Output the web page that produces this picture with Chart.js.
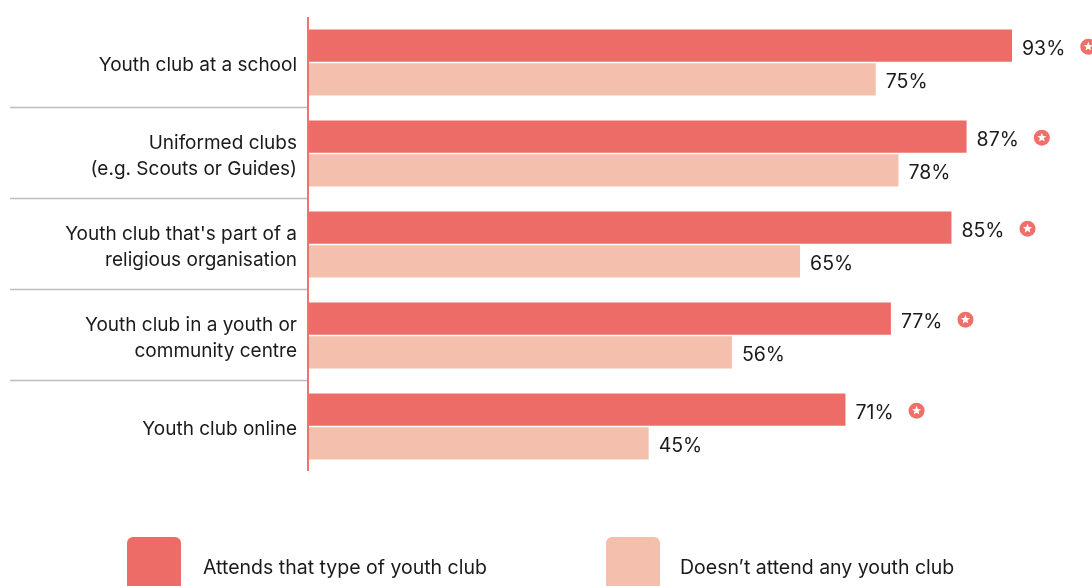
<!DOCTYPE html>
<html>
<head>
<meta charset="utf-8">
<script src="https://cdn.jsdelivr.net/npm/chart.js@4"></script>
<style>
html,body{margin:0;padding:0;background:#fff;}
#wrap{width:1092px;height:586px;position:relative;}
</style>
</head>
<body>
<div id="wrap"><canvas id="c" width="1092" height="586"></canvas></div>
<script>
const categories = [
  ["Youth club at a school"],
  ["Uniformed clubs", "(e.g. Scouts or Guides)"],
  ["Youth club that's part of a", "religious organisation"],
  ["Youth club in a youth or", "community centre"],
  ["Youth club online"]
];
const attendsValues = [93, 87, 85, 77, 71];
const notAttendValues = [75, 78, 65, 56, 45];
const seriesNames = ["Attends that type of youth club", "Doesn\u2019t attend any youth club"];
const significant = [true, true, true, true, true];

const C_DARK = '#ee6c67';
const C_LIGHT = '#f4c0ad';
const FONT = 'Inter, "Noto Sans", sans-serif';

function drawStar(ctx, cx, cy, R, r) {
  ctx.beginPath();
  for (let i = 0; i < 10; i++) {
    const rad = i % 2 === 0 ? R : r;
    const a = -Math.PI / 2 + i * Math.PI / 5;
    const x = cx + rad * Math.cos(a), y = cy + rad * Math.sin(a);
    if (i === 0) ctx.moveTo(x, y); else ctx.lineTo(x, y);
  }
  ctx.closePath();
  ctx.fill();
}

const extras = {
  id: 'extras',
  afterDatasetsDraw(chart) {
    const ctx = chart.ctx;
    const area = chart.chartArea;
    const y = chart.scales.y;
    ctx.save();
    // category labels
    ctx.font = '19px ' + FONT;
    ctx.fillStyle = '#1a1a1a';
    ctx.textAlign = 'right';
    ctx.textBaseline = 'middle';
    const lh = 26.5;
    chart.data.labels.forEach((lines, i) => {
      const cy = y.getPixelForValue(i) + 3;
      const y0 = cy - (lines.length - 1) * lh / 2;
      lines.forEach((ln, k) => ctx.fillText(ln, area.left - 11, y0 + k * lh));
    });
    // separators
    ctx.strokeStyle = '#bdbdbd';
    ctx.lineWidth = 1.5;
    for (let i = 0; i < categories.length - 1; i++) {
      const yy = Math.round((y.getPixelForValue(i) + y.getPixelForValue(i + 1)) / 2) - 0.5;
      ctx.beginPath();
      ctx.moveTo(10, yy);
      ctx.lineTo(area.left - 1, yy);
      ctx.stroke();
    }
    // axis line
    ctx.strokeStyle = '#f07370';
    ctx.lineWidth = 2;
    ctx.beginPath();
    ctx.moveTo(area.left, area.top);
    ctx.lineTo(area.left, area.bottom - 1);
    ctx.stroke();
    // value labels
    ctx.font = '19.5px ' + FONT;
    ctx.textBaseline = 'middle';
    ctx.textAlign = 'left';
    chart.data.datasets.forEach((ds, di) => {
      const meta = chart.getDatasetMeta(di);
      meta.data.forEach((bar, i) => {
        const txt = ds.data[i] + '%';
        const tx = bar.x + 10;
        const ty = bar.y + 3;
        ctx.fillStyle = '#1a1a1a';
        ctx.fillText(txt, tx, ty);
        if (di === 0 && significant[i]) {
          const w = ctx.measureText(txt).width;
          const cx = tx + w + 23, cy = bar.y + 1;
          ctx.fillStyle = '#ef6f69';
          ctx.beginPath();
          ctx.arc(cx, cy, 8, 0, Math.PI * 2);
          ctx.fill();
          ctx.fillStyle = '#fff';
          drawStar(ctx, cx, cy, 4.8, 2.1);
        }
      });
    });
    // legend
    const legend = [
      { x: 127, color: C_DARK, text: seriesNames[0], tx: 203 },
      { x: 606, color: C_LIGHT, text: seriesNames[1], tx: 680 }
    ];
    legend.forEach(l => {
      ctx.fillStyle = l.color;
      ctx.beginPath();
      ctx.roundRect(l.x, 537, 54, 60, 6);
      ctx.fill();
      ctx.fillStyle = '#1a1a1a';
      ctx.font = '19.5px ' + FONT;
      ctx.textAlign = 'left';
      ctx.textBaseline = 'middle';
      ctx.fillText(l.text, l.tx, 568);
    });
    ctx.restore();
  }
};

new Chart(document.getElementById('c'), {
  type: 'bar',
  data: {
    labels: categories,
    datasets: [
      { label: seriesNames[0], data: attendsValues, backgroundColor: C_DARK },
      { label: seriesNames[1], data: notAttendValues, backgroundColor: C_LIGHT }
    ]
  },
  options: {
    indexAxis: 'y',
    responsive: false,
    animation: false,
    devicePixelRatio: 1,
    categoryPercentage: 0.74,
    barPercentage: 0.955,
    layout: { padding: { top: 17, bottom: 114, right: 27, left: 0 } },
    plugins: { legend: { display: false }, tooltip: { enabled: false } },
    scales: {
      x: { display: false, min: 0, max: 100 },
      y: {
        grid: { display: false },
        border: { display: false },
        afterFit(scale) { scale.width = 308; },
        ticks: { display: false }
      }
    }
  },
  plugins: [extras]
});
</script>
</body>
</html>
